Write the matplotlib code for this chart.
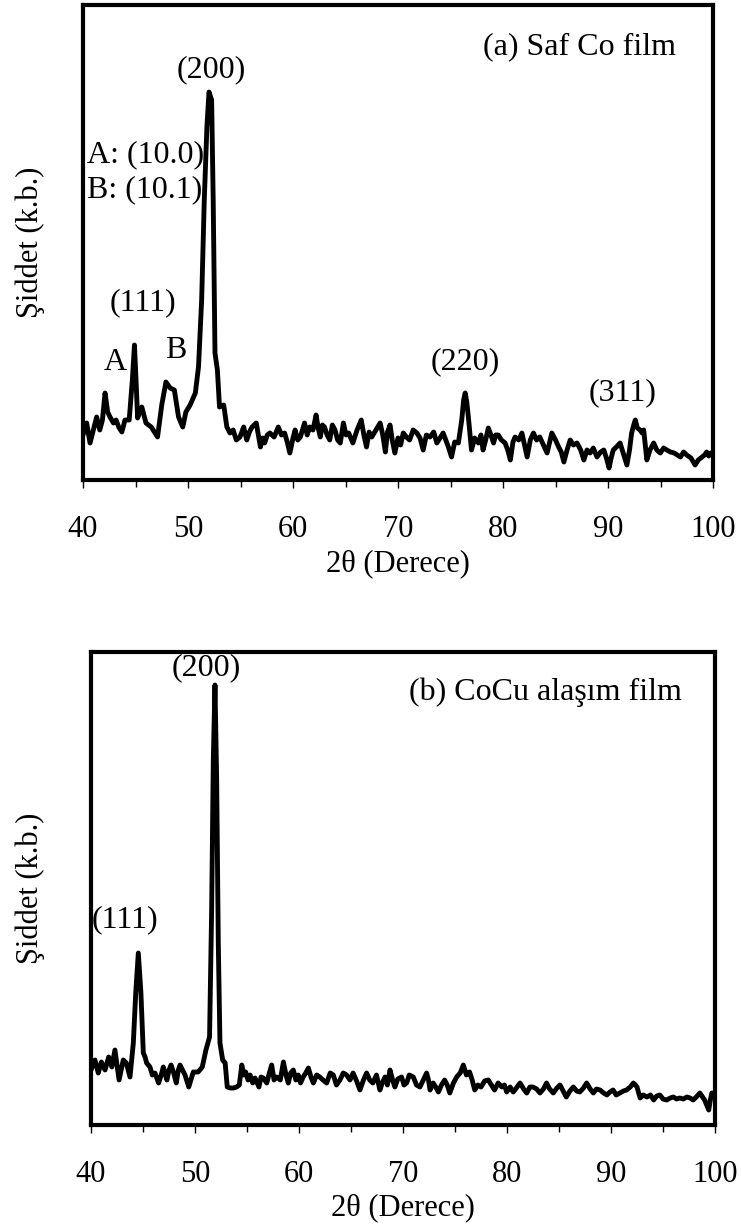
import matplotlib
matplotlib.use("Agg")
import matplotlib.pyplot as plt
from matplotlib.ticker import MultipleLocator

plt.rcParams["font.family"] = ["Liberation Serif", "DejaVu Serif"]

# ---- (a) pure Co film ----
two_theta_a = [
    40.0, 40.35, 40.67, 40.98, 41.3, 41.6, 41.85, 42.1, 42.35, 42.57, 42.9, 43.15, 43.4, 43.7,
    44.0, 44.4, 44.7, 44.9, 45.05, 45.2, 45.6, 46.0, 46.5, 47.1, 47.5, 47.9, 48.3, 48.7, 49.1,
    49.5, 49.8, 50.2, 50.7, 51.0, 51.3, 51.55, 51.8, 52.0, 52.25, 52.4, 52.57, 52.8, 53.0, 53.4,
    53.7, 54.0, 54.3, 54.6, 54.95, 55.3, 55.6, 55.85, 56.1, 56.5, 56.9, 57.1, 57.3, 57.55, 57.8,
    58.2, 58.6, 58.9, 59.2, 59.45, 59.7, 60.0, 60.2, 60.45, 60.7, 60.9, 61.1, 61.35, 61.6, 61.9,
    62.2, 62.4, 62.6, 62.8, 63.0, 63.25, 63.5, 63.75, 64.0, 64.25, 64.5, 64.8, 65.05, 65.3, 65.5,
    65.7, 66.1, 66.5, 66.75, 67.0, 67.25, 67.5, 67.9, 68.3, 68.55, 68.8, 69.0, 69.24, 69.45, 69.7,
    70.0, 70.25, 70.5, 70.8, 71.1, 71.45, 71.8, 72.1, 72.4, 72.7, 73.05, 73.4, 73.7, 74.0, 74.3,
    74.55, 74.8, 75.1, 75.4, 75.75, 76.07, 76.25, 76.4, 76.55, 76.7, 77.0, 77.3, 77.65, 77.9,
    78.1, 78.35, 78.6, 78.85, 79.1, 79.3, 79.55, 79.85, 80.2, 80.45, 80.7, 80.95, 81.15, 81.5,
    81.8, 82.05, 82.3, 82.6, 82.9, 83.2, 83.5, 83.85, 84.2, 84.45, 84.65, 85.0, 85.3, 85.55, 85.8,
    86.1, 86.4, 86.7, 87.05, 87.4, 87.7, 88.0, 88.3, 88.6, 88.95, 89.3, 89.6, 89.85, 90.1, 90.3,
    90.5, 90.8, 91.15, 91.5, 91.8, 92.05, 92.25, 92.45, 92.6, 92.8, 93.05, 93.25, 93.4, 93.55,
    93.7, 94.0, 94.35, 94.65, 94.98, 95.3, 95.6, 95.95, 96.3, 96.6, 96.9, 97.2, 97.5, 97.9, 98.3,
    98.6, 98.95, 99.2, 99.4, 99.6, 99.8, 100.0,
]
intensity_a = [
    45, 57, 37, 50, 63, 50, 60, 87, 68, 63, 57, 60, 53, 48,
    60, 60, 100, 135, 100, 62, 73, 57, 53, 43, 75, 98, 92, 90, 63,
    53, 68, 75, 87, 113, 180, 280, 353, 388, 380, 280, 127, 110, 73, 75,
    53, 47, 50, 40, 43, 53, 40, 48, 53, 57, 33, 42, 37, 45, 47,
    43, 53, 45, 47, 38, 27, 42, 50, 40, 43, 50, 57, 45, 53, 50,
    65, 52, 43, 55, 53, 45, 40, 55, 50, 40, 37, 57, 45, 47, 42,
    37, 50, 60, 45, 33, 48, 43, 50, 57, 45, 28, 48, 55, 40, 27,
    42, 35, 47, 43, 40, 50, 47, 42, 30, 45, 43, 48, 37, 42, 47,
    40, 33, 23, 38, 37, 60, 80, 87, 78, 63, 30, 42, 37, 45,
    30, 40, 52, 45, 37, 45, 45, 40, 37, 30, 20, 38, 43, 40,
    47, 35, 23, 40, 47, 40, 43, 35, 27, 38, 47, 40, 33, 28, 18,
    30, 40, 35, 37, 30, 20, 30, 27, 32, 23, 28, 30, 22, 12, 22,
    30, 33, 37, 25, 15, 30, 47, 55, 60, 52, 50, 47, 50, 35,
    20, 30, 37, 30, 27, 32, 30, 28, 27, 25, 23, 28, 25, 22, 15,
    20, 23, 25, 28, 24, 27, 26,
]

# ---- (b) CoCu alloy film ----
two_theta_b = [
    40.0, 40.38, 40.7, 41.0, 41.35, 41.7, 42.0, 42.3, 42.5, 42.7, 42.9, 43.1, 43.4, 43.75,
    44.07, 44.3, 44.55, 44.8, 45.03, 45.2, 45.35, 45.67, 45.9, 46.15, 46.5, 46.75, 46.95, 47.3,
    47.5, 47.7, 47.95, 48.2, 48.4, 48.56, 48.8, 49.04, 49.4, 49.6, 49.84, 50.3, 50.7, 51.05,
    51.4, 51.6, 51.76, 51.92, 52.08, 52.24, 52.4, 52.66, 52.9, 53.1, 53.4, 53.7, 54.0, 54.26,
    54.5, 54.7, 54.87, 55.1, 55.3, 55.55, 55.77, 56.15, 56.35, 56.57, 56.9, 57.15, 57.37, 57.6,
    57.85, 58.2, 58.5, 58.75, 58.97, 59.2, 59.45, 59.7, 59.93, 60.15, 60.4, 60.65, 60.9, 61.15,
    61.38, 61.7, 62.0, 62.3, 62.66, 63.0, 63.3, 63.6, 63.94, 64.25, 64.58, 64.9, 65.2, 65.5,
    65.86, 66.2, 66.5, 66.8, 67.1, 67.45, 67.78, 68.0, 68.27, 68.5, 68.75, 69.0, 69.22, 69.5,
    69.86, 70.1, 70.35, 70.6, 70.99, 71.3, 71.63, 71.95, 72.27, 72.45, 72.6, 72.9, 73.15, 73.4,
    73.7, 74.0, 74.25, 74.5, 74.85, 75.16, 75.5, 75.8, 76.1, 76.4, 76.65, 76.9, 77.2, 77.5,
    77.85, 78.2, 78.5, 78.8, 79.15, 79.5, 79.75, 79.97, 80.3, 80.6, 80.9, 81.25, 81.6, 81.9,
    82.2, 82.5, 82.85, 83.17, 83.5, 83.8, 84.1, 84.45, 84.8, 85.1, 85.4, 85.7, 86.05, 86.38,
    86.7, 87.0, 87.35, 87.66, 88.0, 88.3, 88.6, 88.94, 89.3, 89.6, 89.9, 90.2, 90.5, 90.86,
    91.2, 91.5, 91.85, 92.15, 92.35, 92.5, 92.8, 93.1, 93.45, 93.8, 94.1, 94.4, 94.7, 95.0,
    95.35, 95.7, 96.0, 96.3, 96.6, 96.95, 97.3, 97.6, 97.9, 98.2, 98.55, 98.8, 99.0, 99.2,
    99.4, 99.55, 99.7, 99.85, 100.0,
]
intensity_b = [
    55, 65, 52, 63, 55, 68, 58, 75, 60, 45, 55, 65, 62, 48,
    82, 132, 172, 132, 72, 68, 62, 58, 50, 52, 42, 50, 58, 45,
    55, 60, 52, 42, 55, 60, 55, 50, 38, 45, 53, 53, 58, 75,
    88, 215, 365, 440, 348, 182, 82, 65, 62, 38, 37, 37, 38, 40,
    60, 50, 53, 45, 50, 42, 47, 38, 48, 47, 42, 52, 60, 45,
    48, 45, 63, 50, 42, 52, 55, 45, 50, 42, 48, 52, 57, 48,
    42, 50, 48, 45, 42, 52, 50, 40, 45, 52, 50, 45, 52, 45,
    35, 45, 52, 45, 42, 50, 35, 42, 48, 40, 55, 45, 38, 46,
    48, 40, 42, 50, 48, 40, 38, 45, 52, 45, 35, 42, 38, 33,
    40, 45, 40, 32, 42, 48, 52, 60, 50, 53, 45, 35, 40, 38,
    44, 45, 40, 35, 42, 38, 40, 33, 38, 33, 37, 42, 36, 32,
    38, 38, 36, 32, 36, 42, 36, 32, 37, 40, 34, 28, 34, 38,
    34, 33, 37, 42, 36, 32, 36, 35, 32, 30, 33, 35, 30, 32,
    34, 35, 38, 42, 40, 38, 27, 30, 28, 30, 25, 29, 30, 26,
    25, 27, 28, 26, 27, 26, 28, 27, 25, 28, 32, 28, 25, 20,
    15, 25, 32, 30, 30,
]

x_ticks = [40, 50, 60, 70, 80, 90, 100]

FS_TICK = 22
FS_NOTE = 23

fig = plt.figure(figsize=(7.41, 12.32), dpi=100)
ax_a = fig.add_axes([83 / 741, 1 - 480 / 1232, 630 / 741, 475 / 1232])
ax_b = fig.add_axes([91 / 741, 1 - 1125 / 1232, 624 / 741, 473 / 1232])


def style(ax, ymax, xlab_y, ylab_x):
    ax.set_xlim(40, 100)
    ax.set_ylim(0, ymax)
    ax.set_xticks(x_ticks)
    ax.set_xticklabels([str(t) for t in x_ticks])
    ax.xaxis.set_minor_locator(MultipleLocator(5))
    ax.set_yticks([])
    for sp in ax.spines.values():
        sp.set_linewidth(3.0)
    ax.tick_params(axis="x", which="major", direction="out", length=6, width=1.0,
                   labelsize=FS_TICK, pad=19)
    ax.tick_params(axis="x", which="minor", direction="out", length=5, width=1.0)
    ax.set_xlabel("2θ (Derece)", fontsize=FS_TICK)
    ax.xaxis.label.set_va("center")
    ax.xaxis.set_label_coords(0.5, xlab_y)
    ax.set_ylabel("Şiddet (k.b.)", fontsize=FS_TICK)
    ax.yaxis.label.set_va("center")
    ax.yaxis.set_label_coords(ylab_x, 0.5)


ax_a.plot(two_theta_a, intensity_a, color="black", lw=3.5, solid_joinstyle="round")
style(ax_a, 475, (480 - 564) / 475, (30 - 83) / 630)
ax_a.text(52.26, 410, "(200)", fontsize=FS_NOTE, ha="center", va="center")
ax_a.text(40.35, 325, "A: (10.0)", fontsize=FS_NOTE, ha="left", va="center")
ax_a.text(40.35, 290, "B: (10.1)", fontsize=FS_NOTE, ha="left", va="center")
ax_a.text(45.7, 177, "(111)", fontsize=FS_NOTE, ha="center", va="center")
ax_a.text(43.1, 118, "A", fontsize=FS_NOTE, ha="center", va="center")
ax_a.text(48.86, 130, "B", fontsize=FS_NOTE, ha="center", va="center")
ax_a.text(87.24, 433, "(a) Saf Co film", fontsize=FS_NOTE, ha="center", va="center")
ax_a.text(76.4, 118, "(220)", fontsize=FS_NOTE, ha="center", va="center")
ax_a.text(91.4, 87, "(311)", fontsize=FS_NOTE, ha="center", va="center")

ax_b.plot(two_theta_b, intensity_b, color="black", lw=3.5, solid_joinstyle="round")
style(ax_b, 473, (1125 - 1208) / 473, (30 - 91) / 624)
ax_b.text(51.1, 457, "(200)", fontsize=FS_NOTE, ha="center", va="center", clip_on=False)
ax_b.text(43.27, 205, "(111)", fontsize=FS_NOTE, ha="center", va="center")
ax_b.text(83.65, 433, "(b) CoCu alaşım film", fontsize=FS_NOTE, ha="center", va="center")

fig.savefig("out.png", dpi=100)
